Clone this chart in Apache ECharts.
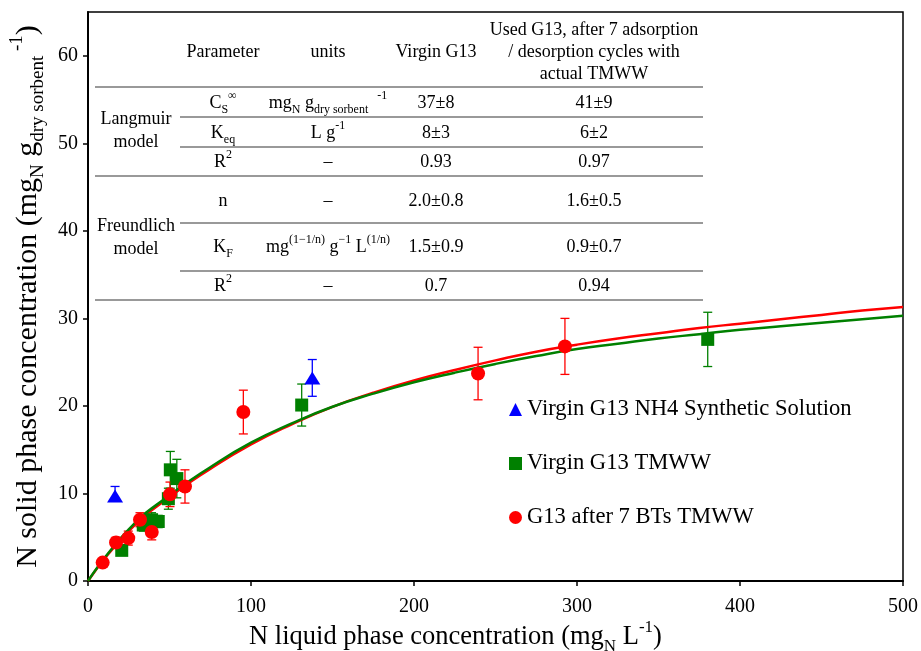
<!DOCTYPE html>
<html>
<head>
<meta charset="utf-8">
<script src="https://cdn.jsdelivr.net/npm/echarts@6/dist/echarts.min.js"></script>
<style>
  html, body { margin: 0; padding: 0; background: #fff; }
  #chart { width: 921px; height: 651px; }
</style>
</head>
<body>
<div id="chart"></div>
<script>
// measured points, each [x, y, error below, error above]
const blueNH4 = [[16.6, 9.7, 0.6, 1.1], [137.6, 23.2, 2.1, 2.1]];
const greenTMWW = [[20.7, 3.5, 0.4, 0.4], [33.9, 6.4, 0.7, 0.7], [39.0, 7.0, 0.8, 0.8], [43.1, 6.8, 0.7, 0.7],
  [49.3, 9.4, 1.2, 1.2], [50.5, 12.7, 2.1, 2.1], [54.5, 11.7, 2.2, 2.2], [131.1, 20.1, 2.4, 2.4], [380.2, 27.6, 3.1, 3.1]];
const redBTs = [[9.0, 2.1, 0.3, 0.3], [17.2, 4.4, 0.6, 0.6], [24.7, 4.9, 0.8, 0.8], [31.9, 7.0, 0.8, 0.8],
  [39.1, 5.6, 0.9, 0.9], [50.3, 9.9, 1.4, 1.4], [59.5, 10.8, 1.9, 1.9], [95.3, 19.3, 2.5, 2.5],
  [239.3, 23.7, 3.0, 3.0], [292.6, 26.8, 3.2, 3.2]];

// model curves
const curveX = [0, 25, 50, 75, 100, 125, 150, 175, 200, 225, 250, 275, 300, 325, 350, 375, 400, 425, 450, 475, 500];
const greenFit = [0, 5.9, 9.8, 13.0, 15.8, 18.0, 19.9, 21.4, 22.7, 23.8, 24.8, 25.7, 26.5, 27.1, 27.7, 28.2, 28.7, 29.1, 29.5, 29.9, 30.3];
const redFit = [0, 5.7, 9.6, 12.8, 15.6, 17.9, 19.9, 21.5, 22.9, 24.1, 25.2, 26.2, 27.0, 27.7, 28.3, 28.9, 29.4, 29.9, 30.4, 30.9, 31.3];

const seriesNames = ['Virgin G13 NH4 Synthetic Solution', 'Virgin G13 TMWW', 'G13 after 7 BTs TMWW'];

// inset table
const tableHead = ['Parameter', 'units', 'Virgin G13', 'Used G13, after 7 adsorption\n/ desorption cycles with\nactual TMWW'];
const modelNames = ['Langmuir\nmodel', 'Freundlich\nmodel'];
const paramNames = ['C{sub|S}{sup|∞}', 'K{sub|eq}', 'R{sup|2}', 'n', 'K{sub|F}', 'R{sup|2}'];
const paramUnits = ['mg{sub|N} g{sub|dry sorbent}{sup|   -1}', 'L g{sup|-1}', '–', '–', 'mg{sup|(1−1/n)} g{sup|−1} L{sup|(1/n)}', '–'];
const virginVals = ['37±8', '8±3', '0.93', '2.0±0.8', '1.5±0.9', '0.7'];
const usedVals = ['41±9', '6±2', '0.97', '1.6±0.5', '0.9±0.7', '0.94'];

const FONT = 'Liberation Serif';
const chart = echarts.init(document.getElementById('chart'));

function errorBars(color) {
  return function (params, api) {
    const x = api.value(0), y = api.value(1);
    const top = api.coord([x, y + api.value(3)]);
    const bot = api.coord([x, y - api.value(2)]);
    const hw = 4.5;
    const st = { stroke: color, lineWidth: 1.3 };
    return {
      type: 'group',
      children: [
        { type: 'line', shape: { x1: top[0], y1: top[1], x2: bot[0], y2: bot[1] }, style: st },
        { type: 'line', shape: { x1: top[0] - hw, y1: top[1], x2: top[0] + hw, y2: top[1] }, style: st },
        { type: 'line', shape: { x1: bot[0] - hw, y1: bot[1], x2: bot[0] + hw, y2: bot[1] }, style: st }
      ]
    };
  };
}

// table layout
const colX = [136, 223, 328, 436, 594];
const rowY = [103, 133, 162, 201, 247, 286];
const tableLeft = 95, tableInner = 180, tableRight = 703;
const fullRules = [87, 176, 300];
const partRules = [117, 147, 223, 271];
const richSS = {
  sub: { fontFamily: FONT, fontSize: 12, verticalAlign: 'bottom', lineHeight: 14 },
  sup: { fontFamily: FONT, fontSize: 12, verticalAlign: 'top', lineHeight: 14 }
};

function cell(text, x, y, lh) {
  return {
    type: 'text', x: x, y: y, z: 10,
    style: {
      text: text, fill: '#000', fontFamily: FONT, fontSize: 18,
      align: 'center', verticalAlign: 'middle', lineHeight: lh || 26, rich: richSS
    }
  };
}

const tableGraphics = [];
fullRules.forEach(function (y) {
  tableGraphics.push({ type: 'line', shape: { x1: tableLeft, y1: y, x2: tableRight, y2: y }, style: { stroke: '#777', lineWidth: 1.6 } });
});
partRules.forEach(function (y) {
  tableGraphics.push({ type: 'line', shape: { x1: tableInner, y1: y, x2: tableRight, y2: y }, style: { stroke: '#777', lineWidth: 1.6 } });
});
tableHead.forEach(function (t, i) {
  tableGraphics.push(cell(t, colX[i + 1], 52, 22));
});
tableGraphics.push(cell(modelNames[0], colX[0], 131, 23));
tableGraphics.push(cell(modelNames[1], colX[0], 238, 23));
paramNames.forEach(function (t, i) {
  tableGraphics.push(cell(t, colX[1], rowY[i]));
  tableGraphics.push(cell(paramUnits[i], colX[2], rowY[i]));
  tableGraphics.push(cell(virginVals[i], colX[3], rowY[i]));
  tableGraphics.push(cell(usedVals[i], colX[4], rowY[i]));
});

function nameRich(size) {
  return {
    sub: { fontFamily: FONT, fontSize: size, verticalAlign: 'bottom', lineHeight: size + 2 },
    sup: { fontFamily: FONT, fontSize: size, verticalAlign: 'top', lineHeight: size + 2 }
  };
}

const option = {
  animation: false,
  backgroundColor: '#fff',
  grid: {
    left: 88, right: 18, top: 12, bottom: 70, outerBoundsMode: 'none',
    show: true, borderColor: '#000', borderWidth: 1.5
  },
  legend: {
    orient: 'vertical', left: 509, top: 398, itemGap: 31, itemWidth: 13, itemHeight: 13, padding: 0,
    textStyle: { fontFamily: FONT, fontSize: 22.6, color: '#000' },
    data: [
      { name: seriesNames[0], icon: 'triangle' },
      { name: seriesNames[1], icon: 'rect' },
      { name: seriesNames[2], icon: 'circle' }
    ]
  },
  xAxis: {
    type: 'value', min: 0, max: 500, interval: 100,
    name: 'N liquid phase concentration (mg{sub|N} L{sup|-1})',
    nameLocation: 'middle', nameGap: 38, nameMoveOverlap: false,
    nameTextStyle: { fontFamily: FONT, fontSize: 26.5, color: '#000', lineHeight: 36, padding: [0, 80, 0, 0], rich: nameRich(17) },
    axisLine: { lineStyle: { color: '#000', width: 2 } },
    axisTick: { length: 5, lineStyle: { color: '#000', width: 1.5 } },
    axisLabel: { fontFamily: FONT, fontSize: 20, color: '#000', margin: 16 },
    splitLine: { show: false }
  },
  yAxis: {
    type: 'value', min: 0, max: 65, interval: 10,
    name: 'N solid phase concentration (mg{sub|N} g{sub|dry sorbent}{sup| -1})',
    nameLocation: 'middle', nameGap: 40, nameMoveOverlap: false,
    nameTextStyle: { fontFamily: FONT, fontSize: 30, color: '#000', lineHeight: 40, rich: nameRich(19) },
    axisLine: { lineStyle: { color: '#000', width: 2 } },
    axisTick: { length: 5, lineStyle: { color: '#000', width: 1.5 } },
    axisLabel: { fontFamily: FONT, fontSize: 20, color: '#000', margin: 10, showMaxLabel: false },
    splitLine: { show: false }
  },
  graphic: tableGraphics,
  series: [
    { type: 'custom', name: 'err-green', renderItem: errorBars('#008000'), data: greenTMWW, encode: { x: 0, y: 1 }, z: 1, silent: true },
    { type: 'custom', name: 'err-red', renderItem: errorBars('#ff0000'), data: redBTs, encode: { x: 0, y: 1 }, z: 1, silent: true },
    { type: 'custom', name: 'err-blue', renderItem: errorBars('#0000ff'), data: blueNH4, encode: { x: 0, y: 1 }, z: 1, silent: true },
    {
      type: 'line', name: 'Langmuir used', smooth: 0.5, symbol: 'none', z: 2,
      data: curveX.map(function (x, i) { return [x, redFit[i]]; }),
      lineStyle: { color: '#ff0000', width: 2.5 }
    },
    {
      type: 'line', name: 'Langmuir virgin', smooth: 0.5, symbol: 'none', z: 2,
      data: curveX.map(function (x, i) { return [x, greenFit[i]]; }),
      lineStyle: { color: '#008000', width: 2.5 }
    },
    {
      type: 'scatter', name: seriesNames[1], symbol: 'rect', symbolSize: 13, z: 3,
      data: greenTMWW.map(function (d) { return [d[0], d[1]]; }),
      itemStyle: { color: '#008000', opacity: 1 }
    },
    {
      type: 'scatter', name: seriesNames[0], symbol: 'triangle', symbolSize: [16, 13], z: 3,
      data: blueNH4.map(function (d) { return [d[0], d[1]]; }),
      itemStyle: { color: '#0000ff', opacity: 1 }
    },
    {
      type: 'scatter', name: seriesNames[2], symbol: 'circle', symbolSize: 14, z: 4,
      data: redBTs.map(function (d) { return [d[0], d[1]]; }),
      itemStyle: { color: '#ff0000', opacity: 1 }
    }
  ]
};

chart.setOption(option);
</script>
</body>
</html>
